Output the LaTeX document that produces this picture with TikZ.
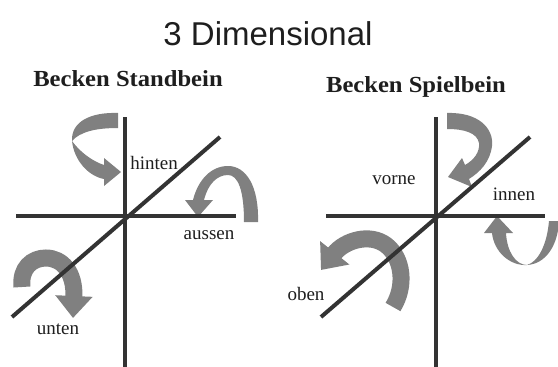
\documentclass[tikz,border=0pt]{standalone}
\usepackage{fontspec}
\setmainfont{Liberation Serif}
\newfontfamily\headfont{Liberation Sans}
\usetikzlibrary{arrows.meta}
\definecolor{axiscol}{HTML}{333333}
\definecolor{arrowcol}{HTML}{808080}
\definecolor{textcol}{HTML}{1E1E1E}
\begin{document}
\begin{tikzpicture}[x=1pt,y=-1pt,
  axisline/.style={draw=axiscol,line width=4pt},
  ribbon/.style={fill=arrowcol,draw=none},
  band/.style={draw=arrowcol,line width=17pt,line cap=butt,-{Triangle[width=36pt,length=22pt]}},
  lbl/.style={text=textcol,inner sep=0pt,font=\fontsize{19}{19}\selectfont},
  head/.style={text=textcol,inner sep=0pt,font=\bfseries\fontsize{23}{23}\selectfont,xscale=1.07}]
\useasboundingbox[fill=white] (0,0) rectangle (558,367);

% ---------- left: Becken Standbein ----------
% twisted arrow top left (points right)
\fill[ribbon] (118,113) .. controls (90,112) and (71,122) .. (72,141)
      .. controls (74,160) and (88,176) .. (104,179) -- (104,186) -- (121,172)
      -- (104,158) -- (104,165) .. controls (92,161) and (80,152) .. (72,141)
      .. controls (80,132) and (95,128) .. (118,128) -- cycle;
% arch arrow near "aussen" (points down)
\fill[ribbon] (258,222) .. controls (259,186) and (246,166) .. (228,166)
      .. controls (211,166) and (198,180) .. (193,200) -- (185,200) -- (198,217)
      -- (213,200) -- (204,200) .. controls (208,184) and (217,175) .. (228,175)
      .. controls (238,175) and (244,190) .. (244,222) -- cycle;
% round arrow near "unten"
\draw[band] (22,287) .. controls (20,268) and (32,258) .. (46,258)
      .. controls (62,258) and (75,272) .. (73,318);

\draw[axisline] (125,117) -- (125,367);
\draw[axisline] (16,216) -- (236,216);
\draw[axisline] (220,137) -- (12,317);

% ---------- right: Becken Spielbein ----------
% arrow top right (points left-down)
\fill[ribbon] (447,113) .. controls (478,112) and (494,128) .. (492,146)
      .. controls (490,162) and (480,172) .. (469,179) -- (472,187) -- (448,177)
      -- (462,158) -- (465,165) .. controls (474,160) and (480,152) .. (479,143)
      .. controls (477,133) and (465,129) .. (447,129) -- cycle;
% U arrow right (points up)
\fill[ribbon] (549,221) .. controls (547,245) and (538,262) .. (527,265)
      .. controls (516,265) and (507,252) .. (506,233) -- (513,233) -- (497,216)
      -- (484,233) -- (492,233) .. controls (494,252) and (510,266) .. (527,265)
      .. controls (546,264) and (558,245) .. (559,221) -- cycle;
% round arrow near "oben"
\draw[band] (393,307) .. controls (406,286) and (403,258) .. (386,245)
      .. controls (370,233) and (345,240) .. (321,270);

\draw[axisline] (436,117) -- (436,367);
\draw[axisline] (326,216) -- (545,216);
\draw[axisline] (530,137) -- (321,317);

% ---------- texts ----------
\node[text=textcol,inner sep=0pt,font=\headfont\fontsize{33}{33}\selectfont] (title) at (268,34) {3 Dimensional};
\node[head] (stand) at (128,79) {Becken Standbein};
\node[head] (spiel) at (416,87) {Becken Spielbein};
\node[lbl] (hinten) at (154,163) {hinten};
\node[lbl] (aussen) at (209,235) {aussen};
\node[lbl] (unten) at (58,329) {unten};
\node[lbl] (vorne) at (394,180) {vorne};
\node[lbl] (innen) at (514,194) {innen};
\node[lbl] (oben) at (306,294) {oben};
\end{tikzpicture}
\end{document}
